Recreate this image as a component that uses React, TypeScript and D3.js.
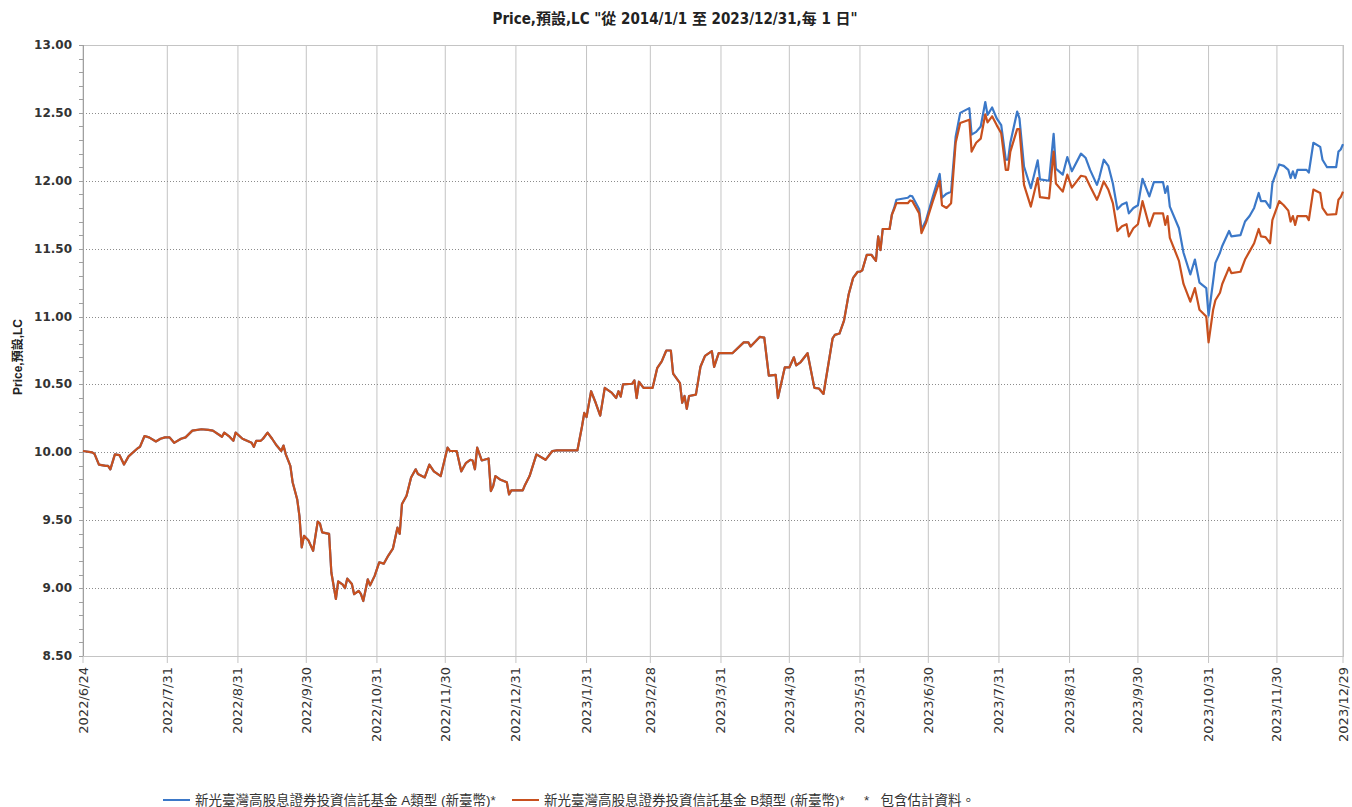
import React, { useEffect, useRef } from 'react';
import * as d3 from 'd3';

// shared history: A and B classes track each other until mid June 2023
const sharedDates = [
  '2022-06-24','2022-06-28','2022-06-29','2022-07-01','2022-07-04','2022-07-05','2022-07-06','2022-07-08','2022-07-10','2022-07-12',
  '2022-07-14','2022-07-18','2022-07-19','2022-07-21','2022-07-23','2022-07-26','2022-07-28','2022-07-30','2022-08-01','2022-08-03',
  '2022-08-06','2022-08-08','2022-08-11','2022-08-15','2022-08-18','2022-08-20','2022-08-24','2022-08-25','2022-08-27','2022-08-29',
  '2022-08-30','2022-09-02','2022-09-04','2022-09-06','2022-09-07','2022-09-08','2022-09-10','2022-09-11','2022-09-13','2022-09-15',
  '2022-09-17','2022-09-19','2022-09-20','2022-09-21','2022-09-23','2022-09-24','2022-09-26','2022-09-27','2022-09-28','2022-09-29',
  '2022-10-01','2022-10-03','2022-10-05','2022-10-06','2022-10-07','2022-10-10','2022-10-11','2022-10-13','2022-10-14','2022-10-16',
  '2022-10-17','2022-10-18','2022-10-20','2022-10-21','2022-10-23','2022-10-24','2022-10-25','2022-10-27','2022-10-28','2022-10-30',
  '2022-11-01','2022-11-03','2022-11-05','2022-11-07','2022-11-09','2022-11-10','2022-11-11','2022-11-13','2022-11-15','2022-11-17',
  '2022-11-18','2022-11-21','2022-11-23','2022-11-25','2022-11-28','2022-12-01','2022-12-02','2022-12-05','2022-12-07','2022-12-09',
  '2022-12-11','2022-12-12','2022-12-13','2022-12-14','2022-12-16','2022-12-19','2022-12-20','2022-12-21','2022-12-22','2022-12-24',
  '2022-12-27','2022-12-28','2022-12-29','2023-01-03','2023-01-04','2023-01-06','2023-01-09','2023-01-13','2023-01-16','2023-01-18',
  '2023-01-27','2023-01-29','2023-01-30','2023-01-31','2023-02-02','2023-02-04','2023-02-06','2023-02-08','2023-02-11','2023-02-13',
  '2023-02-14','2023-02-15','2023-02-16','2023-02-20','2023-02-21','2023-02-22','2023-02-23','2023-02-25','2023-03-01','2023-03-03',
  '2023-03-05','2023-03-07','2023-03-09','2023-03-10','2023-03-13','2023-03-14','2023-03-15','2023-03-16','2023-03-17','2023-03-20',
  '2023-03-22','2023-03-24','2023-03-27','2023-03-28','2023-03-30','2023-04-05','2023-04-10','2023-04-12','2023-04-13','2023-04-17',
  '2023-04-19','2023-04-21','2023-04-24','2023-04-25','2023-04-28','2023-04-30','2023-05-02','2023-05-03','2023-05-05','2023-05-08',
  '2023-05-11','2023-05-13','2023-05-15','2023-05-19','2023-05-20','2023-05-22','2023-05-24','2023-05-26','2023-05-28','2023-05-30',
  '2023-05-31','2023-06-01','2023-06-03','2023-06-05','2023-06-07','2023-06-08','2023-06-09','2023-06-10','2023-06-13','2023-06-14'
];
const sharedValues = [
  10.01,10.00,9.99,9.91,9.90,9.90,9.875,9.985,9.98,9.91,
  9.97,10.03,10.04,10.12,10.11,10.08,10.10,10.11,10.11,10.07,
  10.10,10.11,10.16,10.17,10.165,10.16,10.115,10.145,10.12,10.085,
  10.145,10.10,10.085,10.07,10.04,10.085,10.085,10.10,10.145,10.10,
  10.05,10.01,10.05,9.985,9.90,9.78,9.655,9.53,9.30,9.385,
  9.35,9.275,9.49,9.475,9.41,9.40,9.115,8.92,9.05,9.025,
  9.00,9.07,9.03,8.955,8.98,8.955,8.905,9.065,9.02,9.09,
  9.19,9.18,9.24,9.29,9.445,9.40,9.62,9.68,9.815,9.875,
  9.84,9.815,9.91,9.86,9.825,10.035,10.01,10.01,9.86,9.92,
  9.945,9.94,9.875,10.035,9.94,9.955,9.715,9.75,9.825,9.80,
  9.78,9.69,9.72,9.72,9.76,9.825,9.985,9.945,10.01,10.015,
  10.015,10.19,10.29,10.26,10.45,10.365,10.27,10.475,10.44,10.40,
  10.45,10.41,10.50,10.505,10.53,10.40,10.52,10.475,10.475,10.62,
  10.67,10.75,10.75,10.58,10.51,10.365,10.415,10.32,10.415,10.425,
  10.63,10.71,10.745,10.63,10.73,10.73,10.81,10.81,10.78,10.85,
  10.845,10.565,10.57,10.40,10.625,10.625,10.70,10.64,10.665,10.73,
  10.475,10.47,10.43,10.84,10.865,10.875,10.97,11.16,11.285,11.33,
  11.33,11.34,11.455,11.455,11.41,11.59,11.49,11.645,11.645,11.75
];

// after mid June the two share classes split
const lateDates = [
  '2023-06-15','2023-06-16','2023-06-21','2023-06-22','2023-06-23','2023-06-26','2023-06-27','2023-06-29','2023-07-02','2023-07-05',
  '2023-07-06','2023-07-08','2023-07-10','2023-07-12','2023-07-14','2023-07-18','2023-07-19','2023-07-21','2023-07-23','2023-07-25',
  '2023-07-26','2023-07-28','2023-07-30','2023-08-01','2023-08-03','2023-08-04','2023-08-05','2023-08-08','2023-08-09','2023-08-11',
  '2023-08-14','2023-08-17','2023-08-18','2023-08-22','2023-08-24','2023-08-25','2023-08-28','2023-08-30','2023-09-01','2023-09-05',
  '2023-09-07','2023-09-09','2023-09-12','2023-09-13','2023-09-15','2023-09-17','2023-09-19','2023-09-21','2023-09-23','2023-09-25',
  '2023-09-26','2023-09-28','2023-09-30','2023-10-02','2023-10-05','2023-10-07','2023-10-11','2023-10-12','2023-10-13','2023-10-14',
  '2023-10-18','2023-10-20','2023-10-23','2023-10-25','2023-10-27','2023-10-30','2023-10-31','2023-11-02','2023-11-03','2023-11-05',
  '2023-11-06','2023-11-09','2023-11-10','2023-11-14','2023-11-16','2023-11-18','2023-11-20','2023-11-22','2023-11-23','2023-11-25',
  '2023-11-27','2023-11-28','2023-12-01','2023-12-03','2023-12-05','2023-12-06','2023-12-07','2023-12-08','2023-12-09','2023-12-13',
  '2023-12-14','2023-12-16','2023-12-19','2023-12-20','2023-12-22','2023-12-26','2023-12-27','2023-12-28','2023-12-29'
];
const classAValues = [
  11.80,11.86,11.875,11.89,11.885,11.79,11.64,11.71,11.885,12.05,
  11.875,11.905,11.92,12.325,12.50,12.535,12.34,12.36,12.40,12.58,
  12.485,12.54,12.46,12.41,12.155,12.155,12.28,12.51,12.46,12.105,
  11.945,12.15,12.01,12.00,12.345,12.09,12.045,12.175,12.07,12.20,
  12.17,12.08,11.97,12.02,12.155,12.11,11.98,11.79,11.825,11.84,
  11.76,11.80,11.82,12.015,11.885,11.99,11.99,11.91,11.96,11.81,
  11.65,11.47,11.31,11.42,11.25,11.21,11.007,11.26,11.395,11.47,
  11.52,11.63,11.59,11.60,11.70,11.74,11.80,11.91,11.85,11.85,
  11.80,11.98,12.12,12.11,12.08,12.02,12.07,12.02,12.08,12.08,
  12.06,12.28,12.25,12.155,12.10,12.10,12.215,12.23,12.27
];
const classBValues = [
  11.79,11.835,11.835,11.855,11.85,11.76,11.615,11.69,11.85,12.00,
  11.82,11.80,11.835,12.28,12.425,12.45,12.215,12.28,12.31,12.49,
  12.43,12.475,12.41,12.35,12.08,12.08,12.215,12.38,12.38,11.97,
  11.81,12.02,11.88,11.87,12.215,11.98,11.92,12.045,11.95,12.037,
  12.03,11.96,11.86,11.90,11.995,11.935,11.835,11.63,11.665,11.68,
  11.59,11.65,11.68,11.85,11.665,11.76,11.76,11.675,11.74,11.58,
  11.41,11.24,11.11,11.21,11.05,11.00,10.81,11.05,11.12,11.175,
  11.24,11.36,11.32,11.33,11.42,11.48,11.54,11.645,11.59,11.585,
  11.54,11.71,11.85,11.82,11.78,11.70,11.74,11.675,11.74,11.74,
  11.71,11.935,11.91,11.80,11.75,11.755,11.86,11.88,11.92
];

const tickDates = [
  '2022-06-24','2022-07-31','2022-08-31','2022-09-30','2022-10-31','2022-11-30','2022-12-31','2023-01-31','2023-02-28','2023-03-31',
  '2023-04-30','2023-05-31','2023-06-30','2023-07-31','2023-08-31','2023-09-30','2023-10-31','2023-11-30','2023-12-29'
];
const yTickValues = [8.5, 9, 9.5, 10, 10.5, 11, 11.5, 12, 12.5, 13];

const seriesNames = ['新光臺灣高股息證券投資信託基金 A類型 (新臺幣)*', '新光臺灣高股息證券投資信託基金 B類型 (新臺幣)*'];
const seriesColors = ['#3b78c8', '#c8501e'];
const chartTitle = 'Price,預設,LC "從 2014/1/1 至 2023/12/31,每 1 日"';
const yTitle = 'Price,預設,LC';
const footNote = '*   包含估計資料。';

const W = 1352, H = 807;

const App = () => {
  const ref = useRef<SVGSVGElement>(null);

  useEffect(() => {
    const svg = d3.select(ref.current);
    svg.selectAll('*').remove();

    const parse = d3.timeParse('%Y-%m-%d');
    const fmt = d3.timeFormat('%Y/%-m/%-d');
    const plot = { left: 83, right: 1343, top: 45, bottom: 656 };

    const x = d3.scaleTime()
      .domain([parse(tickDates[0]), parse(tickDates[tickDates.length - 1])])
      .range([plot.left, plot.right]);
    const y = d3.scaleLinear().domain([8.5, 13]).range([plot.bottom, plot.top]);

    const font = '"DejaVu Sans", Verdana, sans-serif';
    const cjk = '"Liberation Sans", "Noto Sans CJK TC", sans-serif';
    const condensed = '"DejaVu Sans Condensed", "Liberation Sans Narrow", "Noto Sans CJK TC", sans-serif';

    // title
    svg.append('text')
      .attr('x', 675).attr('y', 24)
      .attr('text-anchor', 'middle')
      .style('font-family', condensed).style('font-weight', 'bold').style('font-size', '15px')
      .style('fill', '#222')
      .text(chartTitle);

    // vertical grid (solid)
    svg.append('g').selectAll('line')
      .data(tickDates)
      .join('line')
      .attr('x1', d => x(parse(d))).attr('x2', d => x(parse(d)))
      .attr('y1', plot.top).attr('y2', plot.bottom + 7)
      .attr('stroke', '#c4c4c4').attr('stroke-width', 1);

    // horizontal grid (dotted)
    svg.append('g').selectAll('line')
      .data(yTickValues.slice(1, -1))
      .join('line')
      .attr('x1', plot.left).attr('x2', plot.right)
      .attr('y1', d => Math.round(y(d)) + 0.5).attr('y2', d => Math.round(y(d)) + 0.5)
      .attr('stroke', '#8c8c8c').attr('stroke-width', 1).attr('stroke-dasharray', '1,2');

    // frame
    svg.append('rect')
      .attr('x', plot.left + 0.5).attr('y', plot.top + 0.5)
      .attr('width', plot.right - plot.left).attr('height', plot.bottom - plot.top)
      .attr('fill', 'none').attr('stroke', '#c4c4c4');
    svg.append('line')
      .attr('x1', plot.left + 0.5).attr('x2', plot.left + 0.5)
      .attr('y1', plot.top).attr('y2', plot.bottom)
      .attr('stroke', '#a0a0a0');

    // y minor ticks
    const minor = d3.range(85, 131).map(v => v / 10);
    svg.append('g').selectAll('line')
      .data(minor)
      .join('line')
      .attr('x1', plot.left - 4).attr('x2', plot.left)
      .attr('y1', d => Math.round(y(d)) + 0.5).attr('y2', d => Math.round(y(d)) + 0.5)
      .attr('stroke', '#a0a0a0');

    // y labels
    svg.append('g').selectAll('text')
      .data(yTickValues)
      .join('text')
      .attr('x', 72).attr('y', d => y(d))
      .attr('text-anchor', 'end').attr('dominant-baseline', 'central')
      .style('font-family', font).style('font-weight', 'bold').style('font-size', '12px')
      .style('fill', '#333')
      .text(d => d3.format('.2f')(d));

    // x labels
    svg.append('g').selectAll('text')
      .data(tickDates)
      .join('text')
      .attr('transform', d => `translate(${x(parse(d))},667) rotate(-90)`)
      .attr('text-anchor', 'end').attr('dominant-baseline', 'central')
      .style('font-family', font).style('font-size', '13px')
      .style('fill', '#333')
      .text(d => fmt(parse(d)));

    // y axis title
    svg.append('text')
      .attr('transform', 'translate(18,357) rotate(-90)')
      .attr('text-anchor', 'middle').attr('dominant-baseline', 'central')
      .style('font-family', cjk).style('font-weight', 'bold').style('font-size', '12px')
      .style('fill', '#222')
      .text(yTitle);

    // series
    const allA = sharedDates.concat(lateDates).map((d, i) => ({ date: parse(d), value: sharedValues.concat(classAValues)[i] }));
    const allB = sharedDates.concat(lateDates).map((d, i) => ({ date: parse(d), value: sharedValues.concat(classBValues)[i] }));
    const line = d3.line<any>().x(d => x(d.date)).y(d => y(d.value));

    [allA, allB].forEach((s, i) => {
      svg.append('path')
        .datum(s)
        .attr('d', line)
        .attr('fill', 'none')
        .attr('stroke', seriesColors[i])
        .attr('stroke-width', 2.2)
        .attr('stroke-linejoin', 'round');
    });

    // legend
    const legendX = [163, 512];
    seriesNames.forEach((name, i) => {
      svg.append('line')
        .attr('x1', legendX[i]).attr('x2', legendX[i] + 27)
        .attr('y1', 800).attr('y2', 800)
        .attr('stroke', seriesColors[i]).attr('stroke-width', 2);
      svg.append('text')
        .attr('x', legendX[i] + 32).attr('y', 800)
        .attr('dominant-baseline', 'central')
        .style('font-family', cjk).style('font-size', '13.5px')
        .style('fill', '#333')
        .text(name);
    });
    svg.append('text')
      .attr('x', 864).attr('y', 800)
      .attr('dominant-baseline', 'central')
      .style('font-family', cjk).style('font-size', '13.5px')
      .style('fill', '#333')
      .style('white-space', 'pre')
      .text(footNote);
  }, []);

  return (
    <div style={{ position: 'absolute', left: 0, top: 0, width: W, height: H, background: '#fff' }}>
      <svg ref={ref} width={W} height={H} style={{ display: 'block' }}></svg>
    </div>
  );
};

export default App;
